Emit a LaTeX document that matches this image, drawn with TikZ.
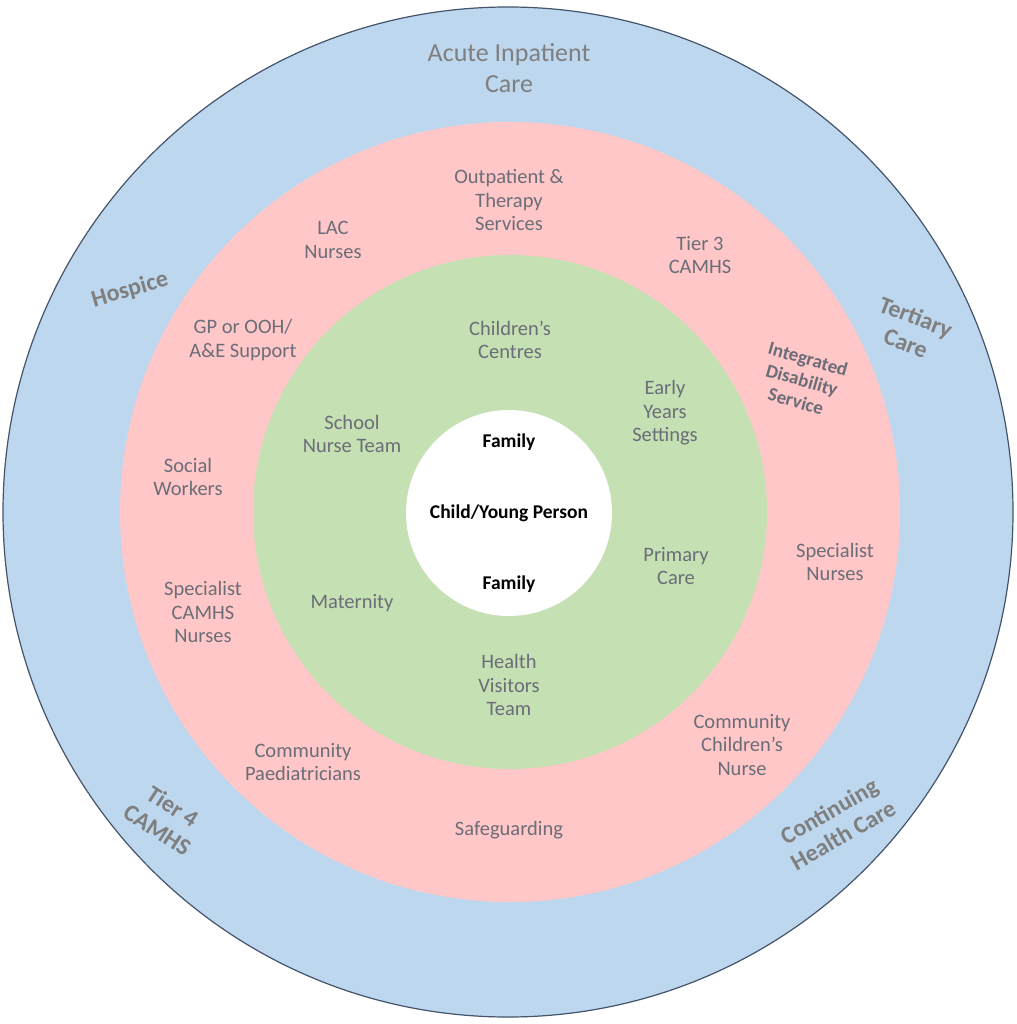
\documentclass[tikz,border=0pt]{standalone}
\usepackage{fontspec}
\setmainfont{Carlito}
\definecolor{ringblue}{HTML}{BDD7EE}
\definecolor{ringpink}{HTML}{FFC7C7}
\definecolor{ringgreen}{HTML}{C5E0B3}
\definecolor{rimline}{HTML}{44546A}
\definecolor{outertext}{HTML}{7F7F7F}
\definecolor{innertext}{HTML}{6B6D78}
\tikzset{
  ring/.style={circle, inner sep=0pt, minimum size=#1},
  outerlabel/.style={text=outertext, align=center, font=\fontsize{26}{31}\selectfont},
  tiltlabel/.style={text=outertext, align=center, inner sep=1pt, font=\bfseries\fontsize{24}{28}\selectfont},
  servicelabel/.style={text=innertext, align=center, font=\fontsize{20.5}{23.5}\selectfont},
  corelabel/.style={text=black, font=\bfseries\fontsize{19.5}{22}\selectfont},
}
\begin{document}
\begin{tikzpicture}[x=1pt, y=-1pt]
\useasboundingbox (0,0) rectangle (1016,1024);
% concentric rings
\node[ring=1010pt, fill=ringblue, draw=rimline, line width=1.2pt] (acute) at (508,512) {};
\node[ring=780pt, fill=ringpink] (community) at (510,512) {};
\node[ring=514pt, fill=ringgreen] (universal) at (510,512) {};
\node[ring=206pt, fill=white] (core) at (509,513) {};

% outer ring
\node[outerlabel] (acutecare) at (509,68) {Acute Inpatient\\Care};
\node[tiltlabel, rotate=16] (hospice) at (130,290) {Hospice};
\node[tiltlabel, rotate=-21] (tertiary) at (911,330) {Tertiary\\Care};
\node[tiltlabel, rotate=-33] (tierfour) at (165,818) {Tier 4\\CAMHS};
\node[tiltlabel, rotate=30] (continuing) at (836,823) {Continuing\\Health Care};

% pink ring
\node[servicelabel] (outpatient) at (509,200) {Outpatient \&\\Therapy\\Services};
\node[servicelabel] (lac) at (333,240) {LAC\\Nurses};
\node[servicelabel] (tierthree) at (700,255) {Tier 3\\CAMHS};
\node[servicelabel] (gp) at (243,340) {GP or OOH/\\A\&E Support};
\node[servicelabel, inner sep=1pt, font=\bfseries\fontsize{19}{22}\selectfont, rotate=-16] (ids) at (802,380) {Integrated\\Disability\\Service};
\node[servicelabel] (social) at (188,477) {Social\\Workers};
\node[servicelabel] (specnurses) at (835,562) {Specialist\\Nurses};
\node[servicelabel] (speccamhs) at (203,612) {Specialist\\CAMHS\\Nurses};
\node[servicelabel] (paeds) at (303,762) {Community\\Paediatricians};
\node[servicelabel] (ccn) at (742,745) {Community\\Children’s\\Nurse};
\node[servicelabel] (safeguarding) at (509,830) {Safeguarding};

% green ring
\node[servicelabel] (centres) at (510,340) {Children’s\\Centres};
\node[servicelabel] (earlyyears) at (665,413) {Early\\Years\\Settings};
\node[servicelabel] (schoolnurse) at (352,434) {School\\Nurse Team};
\node[servicelabel] (primary) at (676,566) {Primary\\Care};
\node[servicelabel] (maternity) at (352,603) {Maternity};
\node[servicelabel] (hv) at (509,685) {Health\\Visitors\\Team};

% centre
\node[corelabel] (familytop) at (509,442) {Family};
\node[corelabel] (child) at (509,513) {Child/Young Person};
\node[corelabel] (familybottom) at (509,584) {Family};
\end{tikzpicture}
\end{document}
